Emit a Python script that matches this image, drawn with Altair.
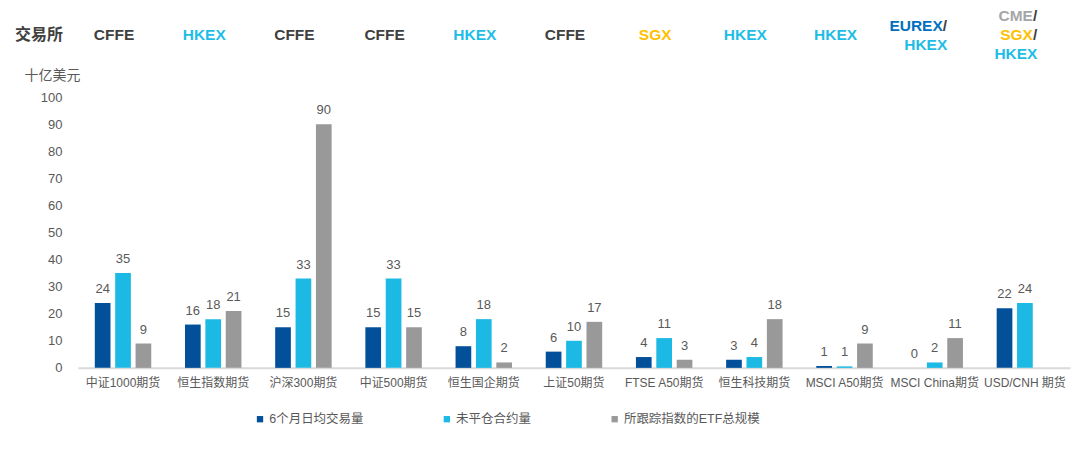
import altair as alt
import pandas as pd

categories = ["中证1000期货", "恒生指数期货", "沪深300期货", "中证500期货", "恒生国企期货",
              "上证50期货", "FTSE A50期货", "恒生科技期货", "MSCI A50期货", "MSCI China期货", "USD/CNH 期货"]
series = ["6个月日均交易量", "未平仓合约量", "所跟踪指数的ETF总规模"]
avg_volume = [24, 16, 15, 15, 8, 6, 4, 3, 0.7, 0, 22]
open_interest = [35, 18, 33, 33, 18, 10, 11, 4, 0.55, 2, 24]
etf_aum = [9, 21, 90, 15, 2, 17, 3, 18, 9, 11, None]
exchanges = ["CFFE", "HKEX", "CFFE", "CFFE", "HKEX", "CFFE", "SGX", "HKEX", "HKEX",
             "EUREX/HKEX", "CME/SGX/HKEX"]

series_colors = ["#02509A", "#1CB9E4", "#999999"]
exchange_colors = {"CFFE": "#404040", "HKEX": "#1DBDE6", "SGX": "#FFC000",
                   "EUREX": "#0070C0", "CME": "#A6A6A6"}

FONT = "Liberation Sans, Noto Sans CJK SC"
TXT = "#595959"

rows = []
for i, c in enumerate(categories):
    for s, vals in zip(series, [avg_volume, open_interest, etf_aum]):
        v = vals[i]
        if v is None:
            continue
        rows.append({"cat": c, "series": s, "value": v})
df = pd.DataFrame(rows)

hrows = []
for c, ex in zip(categories, exchanges):
    parts = ex.split("/")
    n = len(parts)
    for i, p in enumerate(parts):
        hrows.append({"cat": c, "word": p, "color": exchange_colors[p],
                      "slash": i < n - 1, "off": i - (n - 1) / 2})
hdf = pd.DataFrame(hrows)

xenc = alt.X("cat:N", sort=categories,
             scale=alt.Scale(paddingInner=0.374, paddingOuter=0.187),
             axis=alt.Axis(title=None, labelAngle=0, domainColor="#D9D9D9", domainWidth=2,
                           ticks=False, tickSize=0, labelFontSize=12, labelColor=TXT,
                           labelPadding=10, labelFont=FONT, labelLimit=200))
xoff = alt.XOffset("series:N", sort=series, scale=alt.Scale(paddingInner=0.23, paddingOuter=0))

bars = alt.Chart(df).mark_bar().encode(
    x=xenc,
    xOffset=xoff,
    y=alt.Y("value:Q", scale=alt.Scale(domain=[0, 100], nice=False),
            axis=alt.Axis(values=list(range(0, 101, 10)), grid=False, domain=False, ticks=False,
                          tickSize=0, labelFontSize=13, labelColor=TXT, labelFont=FONT,
                          labelPadding=16, title="十亿美元", titleAngle=0, titleAlign="left",
                          titleBaseline="middle", titleX=-54, titleY=-22, titleFontSize=14,
                          titleFontWeight="normal", titleColor=TXT, titleFont=FONT)),
    color=alt.Color("series:N", sort=series,
                    scale=alt.Scale(domain=series, range=series_colors),
                    legend=alt.Legend(title=None, orient="none", legendX=176, legendY=316,
                                      direction="horizontal", symbolType="square",
                                      symbolSize=40, symbolStrokeWidth=0, labelFontSize=12.5,
                                      labelColor=TXT, labelFont=FONT, columnPadding=77,
                                      labelOffset=3, labelLimit=300)),
)

labels = alt.Chart(df).mark_text(baseline="bottom", dy=-7, fontSize=13, color=TXT, font=FONT).encode(
    x=alt.X("cat:N", sort=categories),
    xOffset=alt.XOffset("series:N", sort=series),
    y=alt.Y("value:Q", scale=alt.Scale(domain=[0, 100], nice=False), axis=None),
    text=alt.Text("value:Q", format=".0f"),
)

yh = alt.Y("off:Q", scale=alt.Scale(domain=[-1, 1], range=[-81, -43], nice=False, zero=False), axis=None)

head_plain = alt.Chart(hdf).transform_filter("!datum.slash").mark_text(
    align="center", baseline="middle", dx=-9, fontSize=15.5, fontWeight="bold", font=FONT
).encode(x=alt.X("cat:N", sort=categories), y=yh, text="word:N",
         color=alt.Color("color:N", scale=None, legend=None))

head_word = alt.Chart(hdf).transform_filter("datum.slash").mark_text(
    align="right", baseline="middle", dx=8, fontSize=15.5, fontWeight="bold", font=FONT
).encode(x=alt.X("cat:N", sort=categories), y=yh, text="word:N",
         color=alt.Color("color:N", scale=None, legend=None))

head_slash = alt.Chart(hdf).transform_filter("datum.slash").mark_text(
    align="left", baseline="middle", dx=8, fontSize=15.5, fontWeight="bold", font=FONT,
    color="#404040"
).encode(x=alt.X("cat:N", sort=categories), y=yh, text=alt.value("/"))

exch_title = alt.Chart(pd.DataFrame({"t": ["交易所"]})).mark_text(
    align="center", baseline="middle", fontSize=16, fontWeight="bold", font=FONT, color="#404040"
).encode(x=alt.value(-39), y=alt.value(-62), text="t:N")

chart = alt.layer(bars, labels, head_plain, head_word, head_slash, exch_title).resolve_scale(
    y="independent", color="independent"
).properties(
    width=993, height=271,
    autosize=alt.AutoSizeParams(type="none"),
    padding={"left": 70, "top": 89, "right": 2, "bottom": 80},
).configure_view(stroke=None)

chart.save("out.html", embed_options={"renderer": "svg", "actions": False})
